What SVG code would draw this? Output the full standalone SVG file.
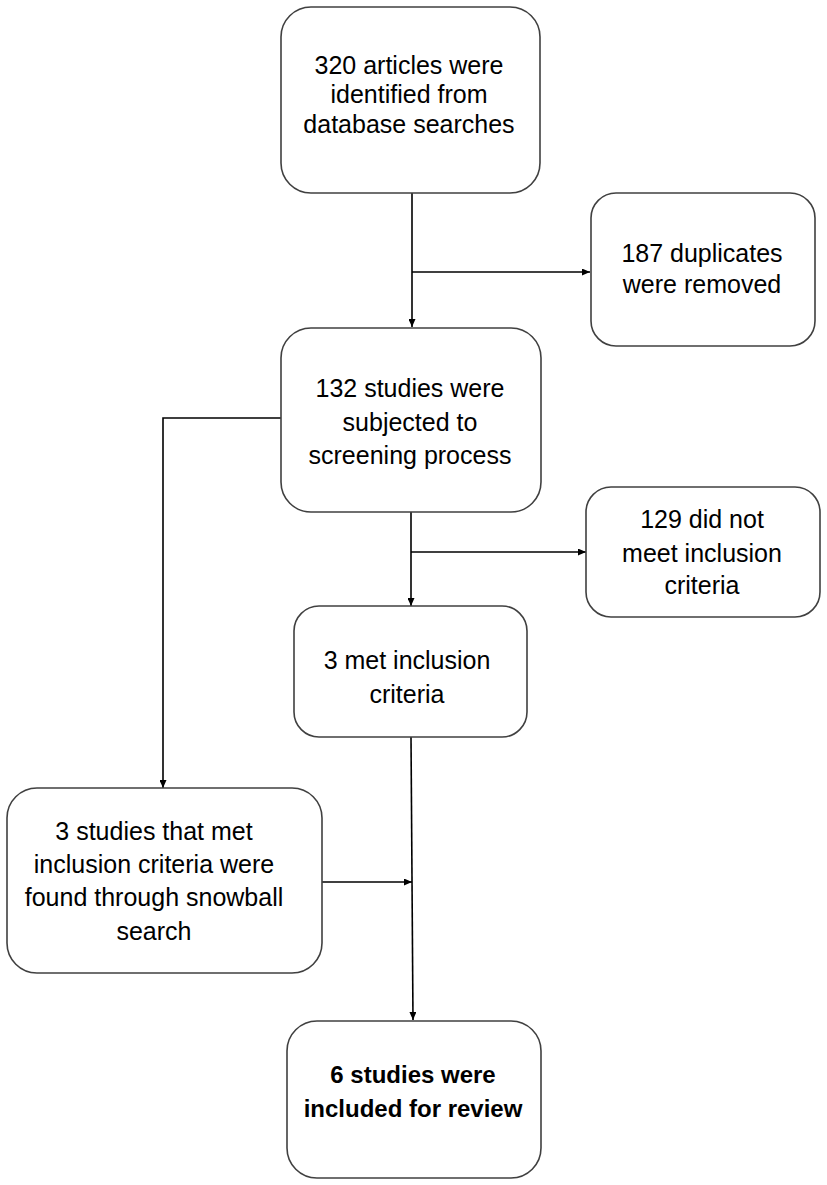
<svg xmlns="http://www.w3.org/2000/svg" width="827" height="1185" viewBox="0 0 827 1185">
  <defs>
    <marker id="arrow" markerUnits="userSpaceOnUse" markerWidth="9" markerHeight="7" refX="8" refY="3.5" orient="auto">
      <path d="M0,0 L8,3.5 L0,7 z" fill="#000"/>
    </marker>
    <style>
      .box { fill: #fff; stroke: #404040; stroke-width: 1.6; }
      .t { font-family: "Liberation Sans", Arial, sans-serif; font-size: 25px; fill: #000; text-anchor: middle; }
      .b { font-weight: bold; font-size: 24px; }
      .c { fill: none; stroke: #000; stroke-width: 1.6; }
    </style>
  </defs>
  <rect width="827" height="1185" fill="#fff"/>

  <g id="connectors">
    <path class="c" d="M412,193 V327" marker-end="url(#arrow)"/>
    <path class="c" d="M412,272 H590" marker-end="url(#arrow)"/>
    <path class="c" d="M281,418 H163 V788" marker-end="url(#arrow)"/>
    <path class="c" d="M411,511 V606" marker-end="url(#arrow)"/>
    <path class="c" d="M411,552 H586" marker-end="url(#arrow)"/>
    <path class="c" d="M411,737 L413,1020" marker-end="url(#arrow)"/>
    <path class="c" d="M322,882 H412" marker-end="url(#arrow)"/>
  </g>

  <g id="node-identified">
    <rect class="box" x="281" y="7" width="259" height="186" rx="30"/>
    <text class="t" x="409" y="74">320 articles were</text>
    <text class="t" x="409" y="103">identified from</text>
    <text class="t" x="409" y="133">database searches</text>
  </g>

  <g id="node-duplicates">
    <rect class="box" x="591" y="193" width="224" height="153" rx="25"/>
    <text class="t" x="702" y="262">187 duplicates</text>
    <text class="t" x="702" y="293">were removed</text>
  </g>

  <g id="node-screening">
    <rect class="box" x="281" y="328" width="260" height="184" rx="30"/>
    <text class="t" x="410" y="397">132 studies were</text>
    <text class="t" x="410" y="431">subjected to</text>
    <text class="t" x="410" y="464">screening process</text>
  </g>

  <g id="node-excluded">
    <rect class="box" x="586" y="487" width="234" height="130" rx="25"/>
    <text class="t" x="702" y="528">129 did not</text>
    <text class="t" x="702" y="562">meet inclusion</text>
    <text class="t" x="702" y="594">criteria</text>
  </g>

  <g id="node-met">
    <rect class="box" x="294" y="606" width="233" height="131" rx="25"/>
    <text class="t" x="407" y="669">3 met inclusion</text>
    <text class="t" x="407" y="703">criteria</text>
  </g>

  <g id="node-snowball">
    <rect class="box" x="7" y="788" width="315" height="185" rx="30"/>
    <text class="t" x="154" y="840">3 studies that met</text>
    <text class="t" x="154" y="873">inclusion criteria were</text>
    <text class="t" x="154" y="906">found through snowball</text>
    <text class="t" x="154" y="940">search</text>
  </g>

  <g id="node-included">
    <rect class="box" x="287" y="1021" width="254" height="157" rx="30"/>
    <text class="t b" x="413" y="1083">6 studies were</text>
    <text class="t b" x="413" y="1117">included for review</text>
  </g>
</svg>
